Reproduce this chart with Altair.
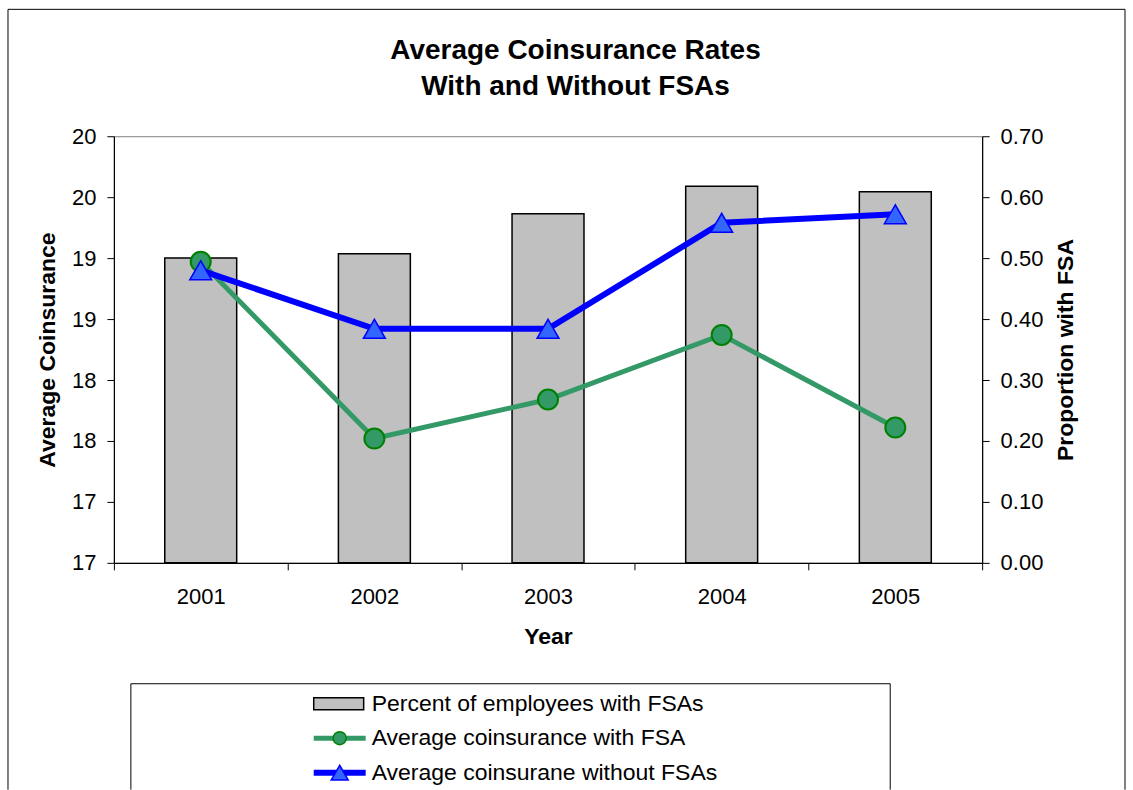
import altair as alt
import pandas as pd

# ---------------- data ----------------
years = ["2001", "2002", "2003", "2004", "2005"]
pct_with_fsa = [0.500, 0.507, 0.573, 0.618, 0.609]
coins_with_fsa = [18.97, 17.52, 17.84, 18.37, 17.61]
coins_without_fsa = [18.90, 18.42, 18.42, 19.29, 19.36]
left_ticks = [16.5, 17.0, 17.5, 18.0, 18.5, 19.0, 19.5, 20.0]
right_ticks = [0.0, 0.1, 0.2, 0.3, 0.4, 0.5, 0.6, 0.7]
legend_labels = [
    "Percent of employees with FSAs",
    "Average coinsurance with FSA",
    "Average coinsurane without FSAs",
]
title_lines = ["Average Coinsurance Rates", "With and Without FSAs"]

FONT = "Liberation Sans"
W, H = 869, 427

df = pd.DataFrame({
    "Year": years,
    "pct": pct_with_fsa,
    "with_fsa": coins_with_fsa,
    "without_fsa": coins_without_fsa,
})
leg = pd.DataFrame({"label": legend_labels})
ttl = pd.DataFrame({"line": title_lines})
one = pd.DataFrame({"k": [0]})

x_enc = alt.X(
    "Year:O", title="Year",
    scale=alt.Scale(type="band", paddingInner=0, paddingOuter=0),
    axis=alt.Axis(labelAngle=0, tickBand="extent", labelPadding=17, titlePadding=18),
)
left_scale = alt.Scale(domain=[16.5, 20], nice=False, zero=False)
left_axis = alt.Axis(
    orient="left", values=left_ticks,
    labelExpr="format(round(datum.value), 'd')",
    title="Average Coinsurance", labelPadding=11, titlePadding=12,
)

bars = alt.Chart(df).mark_bar(
    size=72, fill="#C0C0C0", stroke="black", strokeWidth=1.5
).encode(
    x=x_enc,
    y=alt.Y("pct:Q", scale=alt.Scale(domain=[0, 0.7], nice=False),
            axis=alt.Axis(orient="right", values=right_ticks, format=".2f",
                          title="Proportion with FSA", titleAngle=270,
                          titleBaseline="top",
                          labelPadding=11, titlePadding=12)),
)

g_line = alt.Chart(df).mark_line(color="#339966", strokeWidth=5).encode(
    x=x_enc, y=alt.Y("with_fsa:Q", scale=left_scale, axis=left_axis))
g_pts = alt.Chart(df).mark_point(
    shape="circle", filled=True, size=400, fill="#339966", stroke="#008000",
    strokeWidth=2, opacity=1
).encode(x=x_enc, y=alt.Y("with_fsa:Q", scale=left_scale, axis=None))
b_line = alt.Chart(df).mark_line(color="#0000FF", strokeWidth=6).encode(
    x=x_enc, y=alt.Y("without_fsa:Q", scale=left_scale, axis=None))
b_pts = alt.Chart(df).mark_point(
    shape="triangle-up", filled=True, size=480, fill="#3366FF", stroke="#0000FF",
    strokeWidth=1.5, opacity=1
).encode(x=x_enc, y=alt.Y("without_fsa:Q", scale=left_scale, axis=None))


def vrule(xv, y1, y2, color="black", w=1):
    return alt.Chart(one).mark_rule(color=color, strokeWidth=w).encode(
        x=alt.value(xv), y=alt.value(y1), y2=alt.value(y2))


def hrule(x1, x2, yv, color="black", w=1):
    return alt.Chart(one).mark_rule(color=color, strokeWidth=w).encode(
        x=alt.value(x1), x2=alt.value(x2), y=alt.value(yv))


# outer chart frame (bottom edge lies outside the picture)
frame = [vrule(-106, -127, 654), vrule(1012, -127, 654), hrule(-106, 1012, -127)]
# legend box
legbox = [vrule(17, 548, 654), vrule(777, 548, 654), hrule(17, 777, 548)]

# two-line chart title
title_text = alt.Chart(ttl).mark_text(
    align="center", baseline="middle", font=FONT, fontSize=28,
    fontWeight="bold", color="black"
).encode(
    x=alt.value(462),
    y=alt.Y("line:N", scale=alt.Scale(type="point", domain=title_lines,
                                      range=[-85, -49], padding=0), axis=None),
    text="line:N",
)

leg_y = alt.Y("label:N", scale=alt.Scale(type="point", domain=legend_labels,
                                         range=[568, 637], padding=0), axis=None)

leg_swatch = alt.Chart(leg).transform_filter(
    alt.datum.label == legend_labels[0]
).mark_point(
    shape="M-1,-0.24L1,-0.24L1,0.24L-1,0.24Z", size=2500, filled=True,
    fill="#C0C0C0", stroke="black", strokeWidth=1.5, opacity=1
).encode(x=alt.value(225), y=leg_y)

leg_gline = alt.Chart(leg).transform_filter(
    alt.datum.label == legend_labels[1]
).mark_rule(color="#339966", strokeWidth=5).encode(
    x=alt.value(200), x2=alt.value(252), y=leg_y)
leg_gpt = alt.Chart(leg).transform_filter(
    alt.datum.label == legend_labels[1]
).mark_point(shape="circle", filled=True, size=170, fill="#339966",
             stroke="#008000", strokeWidth=1.5, opacity=1).encode(
    x=alt.value(226), y=leg_y)

leg_bline = alt.Chart(leg).transform_filter(
    alt.datum.label == legend_labels[2]
).mark_rule(color="#0000FF", strokeWidth=6).encode(
    x=alt.value(200), x2=alt.value(252), y=leg_y)
leg_bpt = alt.Chart(leg).transform_filter(
    alt.datum.label == legend_labels[2]
).mark_point(shape="triangle-up", filled=True, size=290, fill="#3366FF",
             stroke="#0000FF", strokeWidth=1.5, opacity=1).encode(
    x=alt.value(226), y=leg_y)

leg_text = alt.Chart(leg).mark_text(
    align="left", baseline="middle", font=FONT, fontSize=23, color="black"
).encode(x=alt.value(258), y=leg_y, text="label:N")

chart = alt.layer(
    bars, g_line, g_pts, b_line, b_pts,
    *frame, *legbox, title_text,
    leg_swatch, leg_gline, leg_gpt, leg_bline, leg_bpt, leg_text,
).resolve_scale(y="independent").properties(
    width=W, height=H,
    padding={"left": 7, "top": 8, "right": 7, "bottom": 0},
    background="white",
).configure_view(
    stroke="#808080", strokeWidth=1
).configure_axis(
    labelFont=FONT, titleFont=FONT, labelFontSize=22, titleFontSize=23,
    titleFontWeight="bold", labelColor="black", titleColor="black",
    domainColor="black", tickColor="black", tickSize=7, grid=False,
    domainWidth=1.2,
)

chart.save("out.html", embed_options={"renderer": "svg", "actions": False})
